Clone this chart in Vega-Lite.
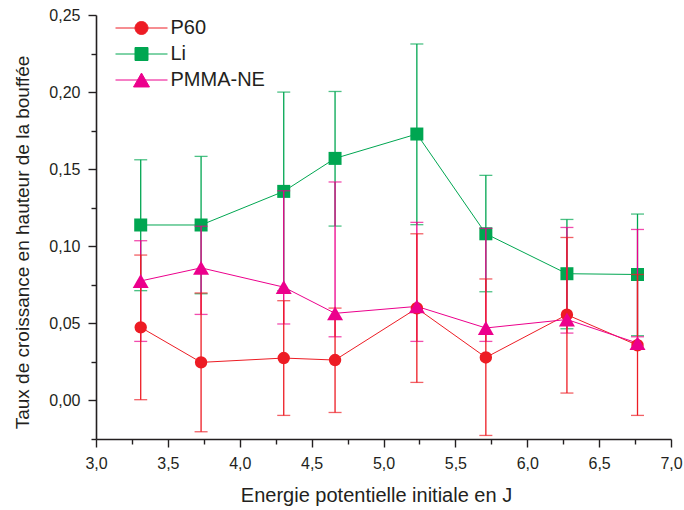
{
  "$schema": "https://vega.github.io/schema/vega-lite/v6.json",
  "width": 575,
  "height": 424,
  "autosize": {"type": "none"},
  "padding": {"left": 96, "top": 15, "right": 13, "bottom": 71},
  "background": "white",
  "data": {
    "values": [
      {"s": "P60", "x": 3.311, "y": 0.0474, "lo": 0.0005, "hi": 0.0943},
      {"s": "P60", "x": 3.731, "y": 0.0247, "lo": -0.0203, "hi": 0.0697},
      {"s": "P60", "x": 4.306, "y": 0.0275, "lo": -0.0097, "hi": 0.0647},
      {"s": "P60", "x": 4.663, "y": 0.0262, "lo": -0.0078, "hi": 0.0599},
      {"s": "P60", "x": 5.232, "y": 0.0598, "lo": 0.0117, "hi": 0.1081},
      {"s": "P60", "x": 5.712, "y": 0.0279, "lo": -0.0227, "hi": 0.0788},
      {"s": "P60", "x": 6.276, "y": 0.0556, "lo": 0.0048, "hi": 0.1057},
      {"s": "P60", "x": 6.767, "y": 0.0358, "lo": -0.0097, "hi": 0.0817},
      {"s": "Li", "x": 3.311, "y": 0.1138, "lo": 0.0712, "hi": 0.1561},
      {"s": "Li", "x": 3.731, "y": 0.1138, "lo": 0.0692, "hi": 0.1583},
      {"s": "Li", "x": 4.306, "y": 0.1356, "lo": 0.0712, "hi": 0.2000},
      {"s": "Li", "x": 4.663, "y": 0.1570, "lo": 0.1131, "hi": 0.2004},
      {"s": "Li", "x": 5.232, "y": 0.1728, "lo": 0.1140, "hi": 0.2312},
      {"s": "Li", "x": 5.712, "y": 0.1081, "lo": 0.0705, "hi": 0.1460},
      {"s": "Li", "x": 6.276, "y": 0.0822, "lo": 0.0465, "hi": 0.1174},
      {"s": "Li", "x": 6.767, "y": 0.0817, "lo": 0.0420, "hi": 0.1209},
      {"s": "PMMA-NE", "x": 3.311, "y": 0.0775, "lo": 0.0383, "hi": 0.1036},
      {"s": "PMMA-NE", "x": 3.731, "y": 0.0860, "lo": 0.0558, "hi": 0.1130},
      {"s": "PMMA-NE", "x": 4.306, "y": 0.0735, "lo": 0.0496, "hi": 0.1360},
      {"s": "PMMA-NE", "x": 4.663, "y": 0.0565, "lo": 0.0413, "hi": 0.1417},
      {"s": "PMMA-NE", "x": 5.232, "y": 0.0610, "lo": 0.0383, "hi": 0.1155},
      {"s": "PMMA-NE", "x": 5.712, "y": 0.0470, "lo": 0.0383, "hi": 0.1116},
      {"s": "PMMA-NE", "x": 6.276, "y": 0.0525, "lo": 0.0437, "hi": 0.1122},
      {"s": "PMMA-NE", "x": 6.767, "y": 0.0372, "lo": 0.0413, "hi": 0.1109}
    ]
  },
  "encoding": {
    "x": {
      "field": "x", "type": "quantitative",
      "scale": {"domain": [3, 7], "nice": false, "zero": false},
      "axis": {
        "title": "Energie potentielle initiale en J",
        "values": [3, 3.25, 3.5, 3.75, 4, 4.25, 4.5, 4.75, 5, 5.25, 5.5, 5.75, 6, 6.25, 6.5, 6.75, 7],
        "labelExpr": "abs(datum.value*2 - round(datum.value*2)) < 0.001 ? format(datum.value, '.1f') : ''",
        "tickSize": {"condition": {"test": "abs(datum.value*2 - round(datum.value*2)) < 0.001", "value": 8}, "value": 5},
        "labelPadding": 8,
        "titleX": 280,
        "titleY": 62.5,
        "titleFontSize": 20,
        "titleBaseline": "alphabetic",
        "titleAlign": "center"
      }
    },
    "y": {
      "field": "y", "type": "quantitative",
      "scale": {"domain": [-0.025, 0.25], "nice": false, "zero": false},
      "axis": {
        "title": "Taux de croissance en hauteur de la bouffée",
        "values": [-0.025, 0, 0.025, 0.05, 0.075, 0.1, 0.125, 0.15, 0.175, 0.2, 0.225, 0.25],
        "labelExpr": "abs(datum.value*20 - round(datum.value*20)) < 0.001 ? format(datum.value, '.2f') : ''",
        "tickSize": {"condition": {"test": "abs(datum.value*20 - round(datum.value*20)) < 0.001", "value": 8}, "value": 5},
        "labelPadding": 8,
        "titleX": -67.5,
        "titleY": 227,
        "titleFontSize": 19,
        "titleAngle": -90,
        "titleBaseline": "alphabetic",
        "titleAlign": "center"
      }
    },
    "color": {
      "field": "s", "type": "nominal",
      "scale": {"domain": ["P60", "Li", "PMMA-NE"], "range": ["#ED1C24", "#00A651", "#EC008C"]},
      "legend": {
        "orient": "none",
        "legendX": 35.5,
        "legendY": 3,
        "title": null,
        "padding": 0,
        "symbolSize": 169,
        "symbolStrokeWidth": 1,
        "labelFontSize": 20,
        "labelOffset": 19,
        "rowPadding": 6,
        "labelColor": "#231F20",
        "labelFont": "Liberation Sans",
        "encode": {
          "symbols": {
            "update": {
              "shape": {"signal": "datum.value === 'P60' ? 'M-4,0H4M1,0A1,1,0,1,1,-1,0A1,1,0,1,1,1,0Z' : datum.value === 'Li' ? 'M-4,0H4M-1,-1H1V1H-1Z' : 'M-4,0H4M0,-1.07L-1.23,1.07L1.23,1.07Z'"},
              "fill": {"signal": "scale('color', datum.value)"},
              "stroke": {"signal": "scale('color', datum.value)"},
              "strokeWidth": {"value": 1},
              "opacity": {"value": 1},
              "fillOpacity": {"value": 1},
              "strokeOpacity": {"value": 1}
            }
          }
        }
      }
    }
  },
  "layer": [
    {"mark": {"type": "line", "strokeWidth": 1}},
    {
      "transform": [{"filter": "datum.s === 'Li'"}],
      "mark": {"type": "rule", "strokeWidth": 1.3},
      "encoding": {"y": {"field": "lo", "type": "quantitative"}, "y2": {"field": "hi"}}
    },
    {
      "transform": [{"filter": "datum.s === 'Li'"}, {"fold": ["lo", "hi"], "as": ["k", "v"]}],
      "mark": {"type": "tick", "orient": "horizontal", "size": 13, "thickness": 1.3},
      "encoding": {"y": {"field": "v", "type": "quantitative"}}
    },
    {
      "transform": [{"filter": "datum.s === 'Li'"}],
      "mark": {"type": "point", "filled": true, "shape": "square", "size": 169, "opacity": 1}
    },
    {
      "transform": [{"filter": "datum.s === 'PMMA-NE'"}],
      "mark": {"type": "rule", "strokeWidth": 1.3},
      "encoding": {"y": {"field": "lo", "type": "quantitative"}, "y2": {"field": "hi"}}
    },
    {
      "transform": [{"filter": "datum.s === 'PMMA-NE'"}, {"fold": ["lo", "hi"], "as": ["k", "v"]}],
      "mark": {"type": "tick", "orient": "horizontal", "size": 13, "thickness": 1.3},
      "encoding": {"y": {"field": "v", "type": "quantitative"}}
    },
    {
      "transform": [{"filter": "datum.s === 'P60'"}],
      "mark": {"type": "rule", "strokeWidth": 1.3},
      "encoding": {"y": {"field": "lo", "type": "quantitative"}, "y2": {"field": "hi"}}
    },
    {
      "transform": [{"filter": "datum.s === 'P60'"}, {"fold": ["lo", "hi"], "as": ["k", "v"]}],
      "mark": {"type": "tick", "orient": "horizontal", "size": 13, "thickness": 1.3},
      "encoding": {"y": {"field": "v", "type": "quantitative"}}
    },
    {
      "transform": [{"filter": "datum.s === 'P60'"}],
      "mark": {"type": "point", "filled": true, "shape": "circle", "size": 154, "opacity": 1}
    },
    {
      "transform": [{"filter": "datum.s === 'PMMA-NE'"}],
      "mark": {"type": "point", "filled": true, "shape": "triangle-up", "size": 256, "opacity": 1}
    }
  ],
  "config": {
    "view": {"stroke": null},
    "font": "Liberation Sans",
    "locale": {"number": {"decimal": ",", "thousands": ".", "grouping": [3], "currency": ["", " €"]}},
    "axis": {
      "grid": false,
      "domainColor": "#231F20",
      "domainWidth": 1.6,
      "tickColor": "#231F20",
      "tickWidth": 1.4,
      "labelFontSize": 16,
      "labelColor": "#231F20",
      "labelFont": "Liberation Sans",
      "labelFlush": false,
      "labelOverlap": false,
      "titleFontWeight": "normal",
      "titleColor": "#231F20",
      "titleFont": "Liberation Sans"
    }
  }
}
